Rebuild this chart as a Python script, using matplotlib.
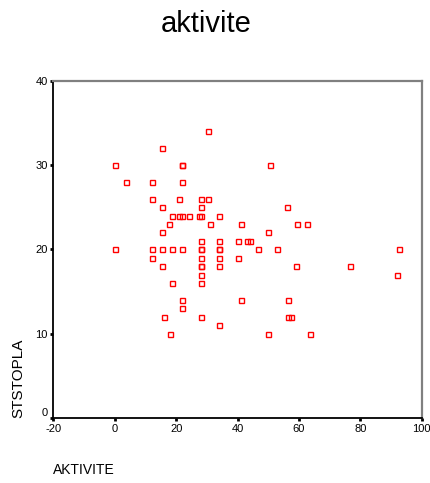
import matplotlib
matplotlib.use('Agg')
import matplotlib.pyplot as plt

plt.rcParams['font.family'] = ['Liberation Sans', 'DejaVu Sans']
plt.rcParams['axes.unicode_minus'] = False

# values
aktivite = [30.5, 15.5, 0, 22, 22, 50.5, 3.5, 12, 22, 12, 21, 28, 30.5, 15.5, 28, 56,
            18.5, 21, 22, 24, 27.5, 28, 34, 17.5, 31, 41, 59.5, 62.5, 15.5, 50,
            28, 34, 40, 43, 44, 0, 12, 15.5, 18.5, 22, 28, 28, 34, 34, 46.5, 53, 92.5,
            12, 28, 34, 40, 15.5, 28, 28, 34, 59, 76.5, 28, 92, 18.5, 28,
            22, 41, 56.5, 22, 16, 28, 56.5, 57.5, 34, 18, 50, 63.5]
ststopla = [34, 32, 30, 30, 30, 30, 28, 28, 28, 26, 26, 26, 26, 25, 25, 25,
            24, 24, 24, 24, 24, 24, 24, 23, 23, 23, 23, 23, 22, 22,
            21, 21, 21, 21, 21, 20, 20, 20, 20, 20, 20, 20, 20, 20, 20, 20, 20,
            19, 19, 19, 19, 18, 18, 18, 18, 18, 18, 17, 17, 16, 16,
            14, 14, 14, 13, 12, 12, 12, 12, 11, 10, 10, 10]
xticks = [-20, 0, 20, 40, 60, 80, 100]
yticks = [0, 10, 20, 30, 40]

fig = plt.figure(figsize=(4.3, 4.83), dpi=100)
ax = fig.add_axes([0.1244, 0.1346, 0.8563, 0.6984])

ax.plot(aktivite, ststopla, linestyle='none', marker='s', markersize=3.6,
        markerfacecolor='none', markeredgecolor='red', markeredgewidth=1)

ax.set_xlim(-20, 100)
ax.set_ylim(0, 40)
ax.set_xticks(xticks)
ax.set_yticks(yticks)
ax.tick_params(direction='out', length=2, width=2, labelsize=8, pad=2, colors='black')

for s in ['left', 'bottom']:
    ax.spines[s].set_color('black')
    ax.spines[s].set_linewidth(1.3)
for s in ['top', 'right']:
    ax.spines[s].set_color('#808080')
    ax.spines[s].set_linewidth(1.6)

# zero label sits just above the x axis
ax.get_yticklabels()[0].set_va('bottom')

fig.text(206 / 430, 1 - 32 / 483, 'aktivite', ha='center', va='baseline', fontsize=21)
fig.text(18 / 430, 1 - 418 / 483, 'STSTOPLA', rotation=90, ha='center', va='bottom', fontsize=11)
fig.text(53 / 430, 1 - 470 / 483, 'AKTIVITE', ha='left', va='center', fontsize=10)

fig.savefig('out.png', dpi=100)
